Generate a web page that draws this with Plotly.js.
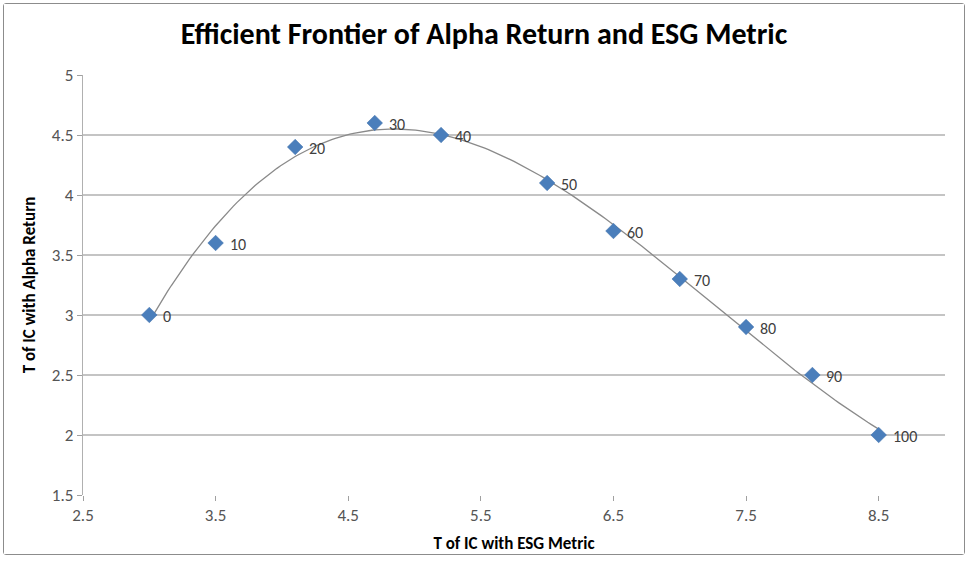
<!DOCTYPE html>
<html>
<head>
<meta charset="utf-8">
<script src="https://cdn.plot.ly/plotly-3.0.1.min.js"></script>
<style>
  html, body { margin: 0; padding: 0; background: #ffffff; }
  #frame { position: absolute; left: 3px; top: 3px; width: 960px; height: 550px;
           border: 1px solid #8c8c8c; border-radius: 3px; background: #fff; }
  #chart { width: 960px; height: 550px; }
</style>
</head>
<body>
<div id="frame"><div id="chart"></div></div>
<script>
// ---- data ----
const esgT = [3.0, 3.5, 4.1, 4.7, 5.2, 6.0, 6.5, 7.0, 7.5, 8.0, 8.5];
const alphaT = [3.0, 3.6, 4.4, 4.6, 4.5, 4.1, 3.7, 3.3, 2.9, 2.5, 2.0];
const pointLabels = ["0", "10", "20", "30", "40", "50", "60", "70", "80", "90", "100"];
const trendOrder = 3;

// ---- least-squares polynomial trendline (as Excel draws it) ----
function polyFit(xs, ys, order) {
  const n = order + 1;
  const A = Array.from({length: n}, () => new Array(n + 1).fill(0));
  for (let i = 0; i < xs.length; i++) {
    for (let r = 0; r < n; r++) {
      for (let c = 0; c < n; c++) A[r][c] += Math.pow(xs[i], r + c);
      A[r][n] += ys[i] * Math.pow(xs[i], r);
    }
  }
  for (let k = 0; k < n; k++) {
    let p = k;
    for (let r = k + 1; r < n; r++) if (Math.abs(A[r][k]) > Math.abs(A[p][k])) p = r;
    [A[k], A[p]] = [A[p], A[k]];
    for (let r = 0; r < n; r++) {
      if (r === k) continue;
      const f = A[r][k] / A[k][k];
      for (let c = k; c <= n; c++) A[r][c] -= f * A[k][c];
    }
  }
  return A.map((row, i) => row[n] / row[i]);
}
const coef = polyFit(esgT, alphaT, trendOrder);
const xMin = Math.min(...esgT), xMax = Math.max(...esgT);
const trendX = [], trendY = [];
for (let i = 0; i <= 200; i++) {
  const x = xMin + (xMax - xMin) * i / 200;
  trendX.push(x);
  trendY.push(coef.reduce((s, c, j) => s + c * Math.pow(x, j), 0));
}

const baseFont = "Carlito, Calibri, 'Liberation Sans Narrow', sans-serif";

const traces = [
  { x: trendX, y: trendY, mode: 'lines', type: 'scatter',
    line: { color: '#8a8a8a', width: 1.3 }, hoverinfo: 'skip', showlegend: false },
  { x: esgT, y: alphaT, mode: 'markers', type: 'scatter',
    marker: { symbol: 'diamond', size: 12, color: '#4a7ebb',
              line: { color: '#3d6eab', width: 0.5 } }, showlegend: false }
];

const annotations = esgT.map((x, i) => ({
  x: x, y: alphaT[i], xref: 'x', yref: 'y', text: pointLabels[i],
  showarrow: false, xanchor: 'left', yanchor: 'middle', xshift: 12, yshift: -1,
  font: { family: baseFont, size: 16, color: '#404040' }
}));

const layout = {
  width: 960, height: 550,
  margin: { l: 79, r: 19, t: 71, b: 59 },
  paper_bgcolor: '#ffffff', plot_bgcolor: '#ffffff',
  font: { family: baseFont, color: '#404040' },
  title: { text: '<b>Efficient Frontier of Alpha Return and ESG Metric</b>',
           font: { family: baseFont, size: 30, color: '#000000' },
           x: 0.5, xanchor: 'center', y: 0.947, yanchor: 'middle' },
  xaxis: {
    range: [2.5, 9.0], tick0: 2.5, dtick: 1, tickmode: 'linear',
    showgrid: false, zeroline: false, showline: false,
    ticks: 'outside', ticklen: 5, tickcolor: '#a0a0a0',
    tickfont: { family: baseFont, size: 17, color: '#555555' },
    title: { text: '<b>T of IC with ESG Metric</b>', standoff: 13,
             font: { family: baseFont, size: 17, color: '#000000' } }
  },
  yaxis: {
    range: [1.5, 5.0], tick0: 1.5, dtick: 0.5, tickmode: 'linear',
    showgrid: true, gridcolor: '#c4c4c4', gridwidth: 1.2,
    zeroline: false, showline: true, linecolor: '#b0b0b0', linewidth: 1.2,
    ticks: 'outside', ticklen: 5, tickcolor: '#a0a0a0',
    tickfont: { family: baseFont, size: 17, color: '#555555' },
    title: { text: '<b>T of IC with Alpha Return</b>', standoff: 12,
             font: { family: baseFont, size: 17, color: '#000000' } }
  },
  annotations: annotations
};

Plotly.newPlot('chart', traces, layout, { displayModeBar: false, staticPlot: true });
</script>
</body>
</html>
